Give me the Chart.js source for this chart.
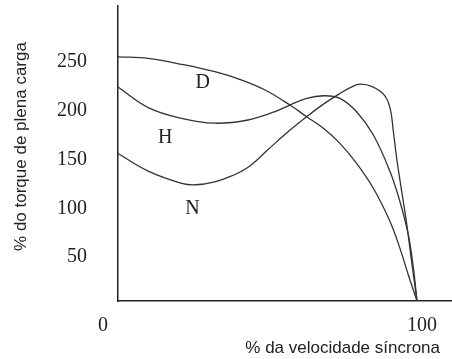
<!DOCTYPE html>
<html><head><meta charset="utf-8">
<script src="https://cdn.jsdelivr.net/npm/chart.js@4/dist/chart.umd.min.js"></script>
<style>html,body{margin:0;padding:0;background:#fff}#wrap{width:452px;height:359px}</style>
</head><body><div id="wrap"><canvas id="c" width="452" height="359"></canvas></div>
<script>
const xTitle = '% da velocidade síncrona';
const yTitle = '% do torque de plena carga';
const yTicks = [50, 100, 150, 200, 250];
const xTicks = [0, 100];
const seriesNames = ['D', 'H', 'N'];

const dX = [0, 10.1, 21.3, 32.4, 41.4, 49.2, 57.5, 63.1, 68.7, 74.2, 79.8, 85.4, 91, 94.3, 97.1, 100];
const dY = [250, 248.4, 242.3, 234.7, 226.2, 216, 200.6, 188.6, 176.8, 161.4, 140.9, 115.4, 81.2, 53.9, 26.6, 0];

const hX = [0, 10.1, 21.3, 32.4, 43.5, 52.5, 57.5, 63.1, 68.7, 74.2, 79.8, 85.4, 91, 94.3, 97.1, 98.8, 100];
const hY = [219, 198, 187, 182, 185.3, 193.8, 200.6, 207.5, 210.1, 207.5, 193.8, 169.9, 132.3, 101.6, 67.6, 33.5, 0];

const nX = [0, 10.1, 21.3, 26, 32.4, 38, 44, 50, 56, 62, 68, 74, 78, 81, 85, 89, 91, 92.1, 93.2, 94.9, 96.6, 98.2, 100];
const nY = [151, 133, 120.5, 119, 122, 128, 138, 154.5, 171, 186, 200, 212, 219, 222, 219.5, 211, 197.5, 173.3, 146.1, 111.9, 77.8, 40.2, 0];

const curveLabelX = [28.3, 15.8, 24.9];
const curveLabelY = [217.7, 161.7, 89.1];

const pts = (xs, ys) => xs.map((x, i) => ({x: x, y: ys[i]}));
const mkSet = (name, xs, ys) => ({
  label: name, data: pts(xs, ys), borderColor: '#333', borderWidth: 1.3,
  pointRadius: 0, fill: false, tension: 0.4
});

const annot = {
  id: 'annot',
  afterDraw(chart) {
    const {ctx, scales: {x, y}} = chart;
    ctx.save();
    ctx.fillStyle = '#222';
    ctx.font = '20px "Liberation Serif"';
    ctx.textBaseline = 'alphabetic';
    ctx.textAlign = 'center';
    seriesNames.forEach((n, i) => ctx.fillText(n, x.getPixelForValue(curveLabelX[i]), y.getPixelForValue(curveLabelY[i])));
    ctx.fillText(String(xTicks[0]), x.getPixelForValue(xTicks[0]) - 15, 331);
    ctx.fillText(String(xTicks[1]), x.getPixelForValue(xTicks[1]) + 5, 331);
    ctx.font = '17px "Liberation Sans"';
    ctx.textAlign = 'right';
    ctx.fillText(xTitle, 440, 353);
    ctx.translate(25.7, 146.5);
    ctx.rotate(-Math.PI / 2);
    ctx.textAlign = 'center';
    ctx.fillText(yTitle, 0, 0);
    ctx.restore();
  }
};

new Chart(document.getElementById('c'), {
  type: 'line',
  data: { datasets: [mkSet(seriesNames[0], dX, dY), mkSet(seriesNames[1], hX, hY), mkSet(seriesNames[2], nX, nY)] },
  options: {
    responsive: false, animation: false, devicePixelRatio: 1,
    layout: { padding: { top: 6, left: 0, right: 0, bottom: 0 } },
    plugins: { legend: { display: false }, tooltip: { enabled: false } },
    scales: {
      x: {
        type: 'linear', min: 0, max: 111.7,
        afterFit: s => { s.height = 58; s.paddingLeft = 0; s.paddingRight = 0; },
        grid: { display: false, drawTicks: false },
        border: { display: true, color: '#222', width: 1.5 },
        ticks: { display: false }
      },
      y: {
        min: 0, max: 302,
        afterBuildTicks: s => { s.ticks = yTicks.map(v => ({ value: v })); },
        afterFit: s => { s.width = 118; s.paddingTop = 0; s.paddingBottom = 0; },
        grid: { display: false, drawTicks: false },
        border: { display: true, color: '#222', width: 1.5 },
        ticks: { font: { family: 'Liberation Serif', size: 20 }, color: '#222', padding: 31, labelOffset: 5, autoSkip: false }
      }
    }
  },
  plugins: [annot]
});
</script>
</body></html>
